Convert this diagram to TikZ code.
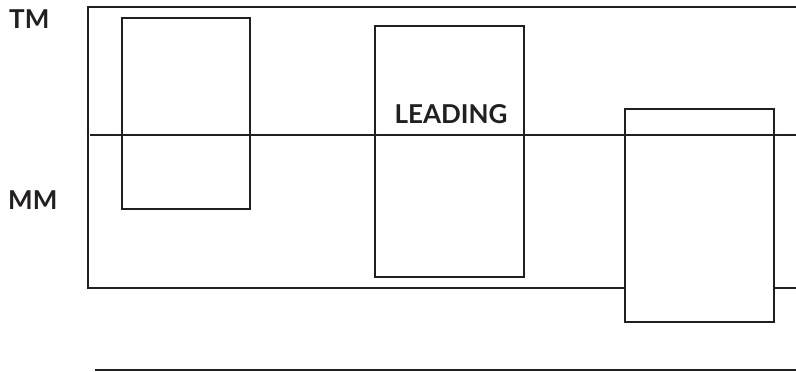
\documentclass[tikz,border=0pt]{standalone}
\usepackage{fontspec}
\setmainfont{Lato}[UprightFont=* Bold]
\definecolor{ink}{HTML}{231F20}
\begin{document}
\begin{tikzpicture}[x=1pt,y=-1pt,
  ln/.style={draw=ink,line width=1.6pt},
  lbl/.style={text=ink,font=\fontsize{26}{26}\selectfont,inner sep=0pt}]
\useasboundingbox (0,0) rectangle (796,372);
% outer frame (open at right)
\draw[ln] (796,7) -- (88,7) -- (88,288) -- (796,288);
% boxes
\draw[ln] (122,18) rectangle (250,209);
\draw[ln] (375,26) rectangle (524,277);
\draw[ln,fill=white] (625,109) rectangle (774,322);
% middle line
\draw[ln] (90,135) -- (796,135);
% bottom line
\draw[ln] (95,370) -- (796,370);
% labels
\node[lbl,anchor=base west] (tm) at (9,28) {TM};
\node[lbl,anchor=base west] (mm) at (8,209) {MM};
\node[lbl,anchor=base] (lead) at (451,123) {LEADING};
\end{tikzpicture}
\end{document}
